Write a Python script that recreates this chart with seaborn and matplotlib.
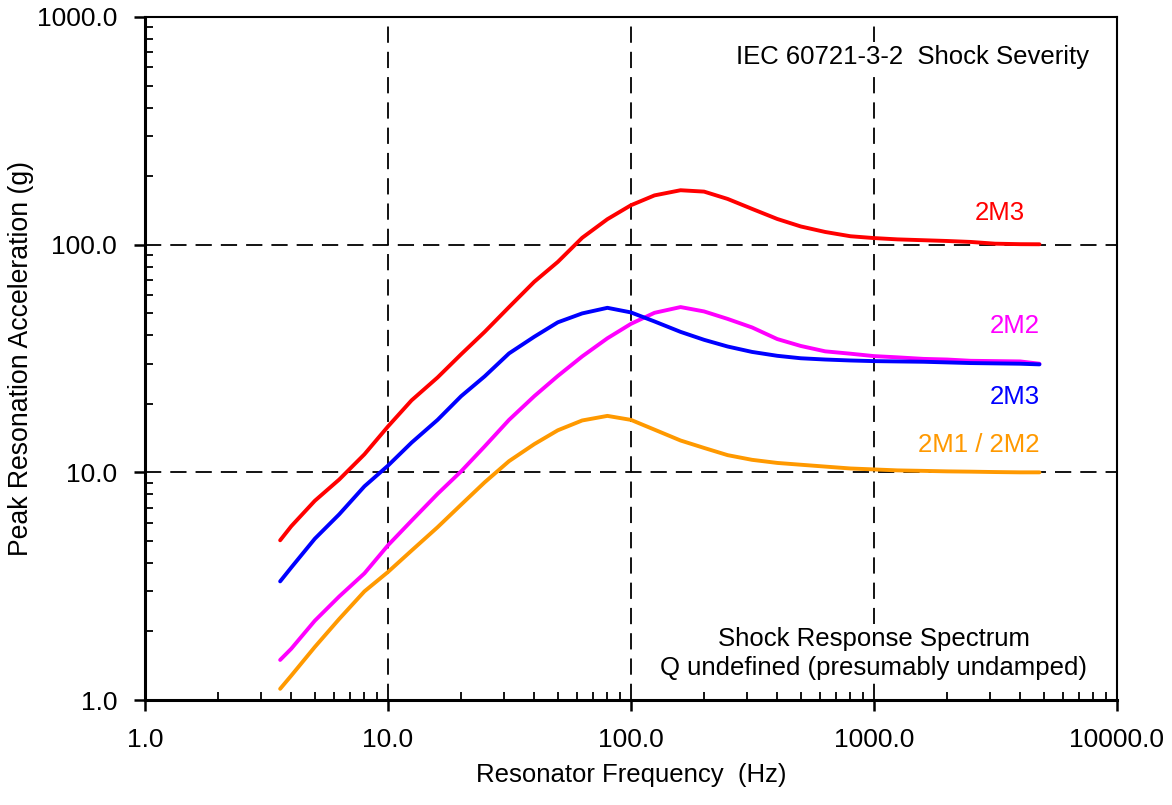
import numpy as np
import pandas as pd
import seaborn as sns
import matplotlib.pyplot as plt
from matplotlib.ticker import LogLocator, FixedLocator, FixedFormatter, NullFormatter

# resonator frequencies (Hz)
freq = [3.6, 4, 5, 6.3, 8, 10, 12.5, 16, 20, 25, 31.5, 40, 50, 63, 80, 100,
        125, 160, 200, 250, 315, 400, 500, 630, 800, 1000, 1250, 1600, 2000,
        2500, 3150, 4000, 4800]

# peak resonator acceleration (g)
red_2m3 = [5.03, 5.8, 7.5, 9.3, 12.0, 15.9, 20.7, 26.1, 33.0, 41.4, 53.2, 68.7,
           84.0, 107.2, 129.4, 149.0, 164.6, 173.4, 171.0, 158.8, 143.6, 129.7,
           120.2, 113.7, 108.9, 106.9, 105.5, 104.6, 103.8, 102.8, 101.0, 100.5, 100.4]
blue_2m3 = [3.32, 3.82, 5.11, 6.54, 8.68, 10.7, 13.5, 17.0, 21.6, 26.4, 33.3, 39.4,
            45.6, 49.9, 52.8, 50.4, 46.0, 41.4, 38.2, 35.7, 33.8, 32.5, 31.7, 31.3,
            31.0, 30.8, 30.7, 30.6, 30.4, 30.2, 30.1, 30.0, 29.8]
magenta_2m2 = [1.50, 1.68, 2.23, 2.85, 3.60, 4.78, 6.13, 8.04, 10.1, 13.0, 17.0, 21.6,
               26.5, 32.3, 38.8, 44.9, 50.2, 53.2, 50.9, 47.2, 43.3, 38.5, 35.9, 34.0,
               33.2, 32.4, 32.0, 31.5, 31.3, 30.9, 30.8, 30.7, 30.0]
orange_2m1_2m2 = [1.12, 1.28, 1.71, 2.27, 3.00, 3.65, 4.53, 5.74, 7.21, 9.04, 11.2, 13.3,
                  15.3, 16.9, 17.7, 17.0, 15.4, 13.8, 12.8, 11.9, 11.35, 11.0, 10.8, 10.6,
                  10.4, 10.3, 10.2, 10.15, 10.1, 10.07, 10.03, 10.0, 10.0]

series_names = ["2M3 a", "2M2", "2M3 b", "2M1 / 2M2"]
series_vals = [red_2m3, magenta_2m2, blue_2m3, orange_2m1_2m2]
colors = ["#FF0000", "#FF00FF", "#0000FF", "#FF9900"]
labels = ["2M3", "2M2", "2M3", "2M1 / 2M2"]
label_x = [4200, 4800, 4800, 4800]
label_y = [138, 44, 21.5, 13.2]

x_ticks = [1, 10, 100, 1000, 10000]
x_ticklabels = ["1.0", "10.0", "100.0", "1000.0", "10000.0"]
y_ticks = [1, 10, 100, 1000]
y_ticklabels = ["1.0", "10.0", "100.0", "1000.0"]

df = pd.concat([pd.DataFrame({"freq": freq, "acc": v, "series": n})
                for n, v in zip(series_names, series_vals)], ignore_index=True)

sns.set_style("ticks")
plt.rcParams['font.family'] = ['Liberation Sans', 'DejaVu Sans']
plt.rcParams['text.color'] = 'black'
plt.rcParams['axes.labelcolor'] = 'black'
plt.rcParams['axes.edgecolor'] = 'black'
plt.rcParams['xtick.color'] = 'black'
plt.rcParams['ytick.color'] = 'black'

fig = plt.figure(figsize=(11.72, 8.05), dpi=100)
ax = fig.add_axes([0.1237, 0.1304, 0.8293, 0.8485])

ax.set_xscale("log")
ax.set_yscale("log")
ax.set_xlim(1, 10000)
ax.set_ylim(1, 1000)

# dashed grid at the decades
for v in x_ticks[1:-1]:
    ax.axvline(v, color="black", lw=1.3, ls=(0, (9, 5)), zorder=1)
for v in y_ticks[1:-1]:
    ax.axhline(v, color="black", lw=1.3, ls=(0, (9, 5)), zorder=1)

sns.lineplot(data=df, x="freq", y="acc", hue="series", hue_order=series_names,
             palette=dict(zip(series_names, colors)), linewidth=2.8,
             legend=False, ax=ax, zorder=3, sort=False)

for lab, c, xv, yv in zip(labels, colors, label_x, label_y):
    ax.text(xv, yv, lab, color=c, fontsize=18.5, ha="right", va="center", zorder=4)

bbox = dict(facecolor="white", edgecolor="none", pad=2)
ax.text(7700, 665, "IEC 60721-3-2  Shock Severity", fontsize=18.5, ha="right",
        va="center", bbox=bbox, zorder=2)
ax.text(1000, 1.6, "Shock Response Spectrum\nQ undefined (presumably undamped)",
        fontsize=18.5, ha="center", va="center", linespacing=1.3, bbox=bbox, zorder=2)

ax.xaxis.set_major_locator(FixedLocator(x_ticks))
ax.xaxis.set_major_formatter(FixedFormatter(x_ticklabels))
ax.yaxis.set_major_locator(FixedLocator(y_ticks))
ax.yaxis.set_major_formatter(FixedFormatter(y_ticklabels))
ax.xaxis.set_minor_locator(LogLocator(base=10, subs=np.arange(2, 10)))
ax.yaxis.set_minor_locator(LogLocator(base=10, subs=np.arange(2, 10)))
ax.xaxis.set_minor_formatter(NullFormatter())
ax.yaxis.set_minor_formatter(NullFormatter())

ax.tick_params(which="major", direction="out", length=8, width=1.8,
               labelsize=19, pad=12)
ax.tick_params(which="minor", direction="in", length=6, width=1.3)
ax.tick_params(top=False, right=False, which="both")

for side in ["left", "bottom"]:
    ax.spines[side].set_linewidth(2.2)
for side in ["top", "right"]:
    ax.spines[side].set_linewidth(1.5)
    ax.spines[side].set_visible(True)

ax.set_xlabel("Resonator Frequency  (Hz)", fontsize=18.5, labelpad=8)
ax.set_ylabel("Peak Resonation Acceleration (g)", fontsize=19.2, labelpad=2)

fig.savefig("out.png", dpi=100)
